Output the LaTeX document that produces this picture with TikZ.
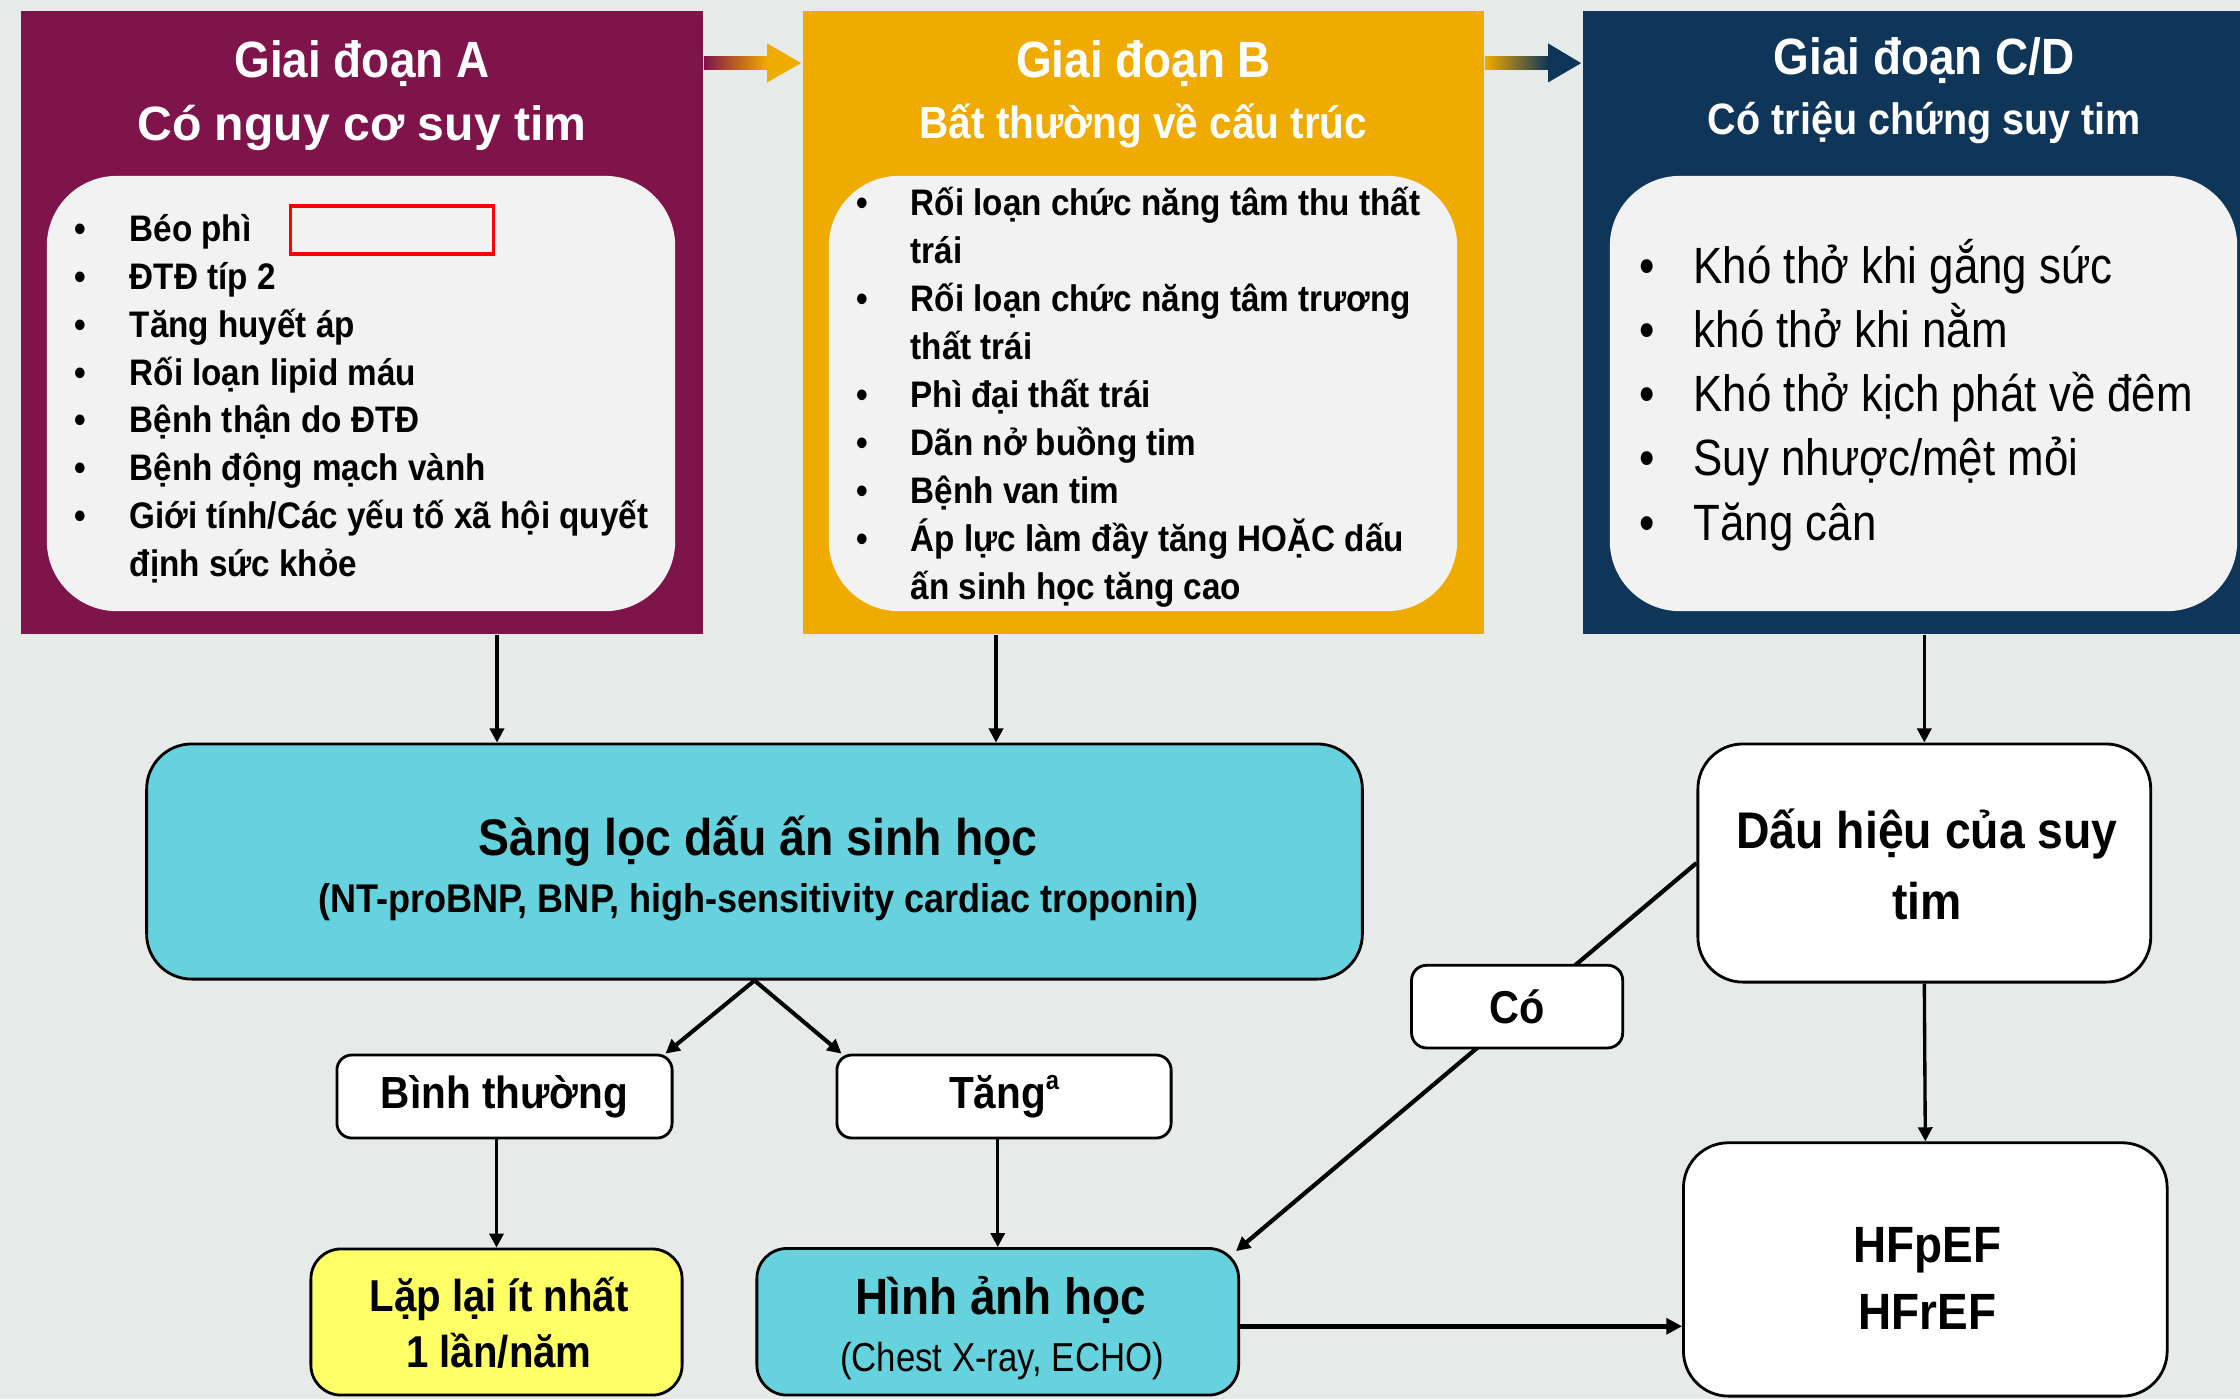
\documentclass[tikz,border=0pt]{standalone}
\usepackage{fontspec}
\setmainfont{Liberation Sans}
\newfontfamily\condsans[FakeStretch=0.9]{Liberation Sans}
\newfontfamily\condreg[FakeStretch=0.86]{Liberation Sans}
\usetikzlibrary{arrows.meta,calc}

% font helpers: condensed bold, condensed regular, normal-width bold
\newcommand\stbold[1]{\condsans\bfseries\fontsize{#1}{#1}\selectfont}
\newcommand\streg[1]{\condreg\fontsize{#1}{#1}\selectfont}
\newcommand\wdbold[1]{\bfseries\fontsize{#1}{#1}\selectfont}
% small raised footnote letter
\newcommand\supmark[1]{\raisebox{0.42em}{\stbold{7.5pt}#1}}

\definecolor{bgcol}{HTML}{E6EAE9}
\definecolor{stageA}{HTML}{7F144A}
\definecolor{stageB}{HTML}{F0AB00}
\definecolor{stageC}{HTML}{0F3659}
\definecolor{panelgray}{HTML}{F2F2F2}
\definecolor{cyanbox}{HTML}{66D2DE}
\definecolor{yellowbox}{HTML}{FFFF66}

\tikzset{
  stage/.style={rectangle, inner sep=0pt, minimum height=6.23cm},
  listbg/.style={rectangle, rounded corners=0.7cm, fill=panelgray, inner sep=0pt,
                 minimum width=6.28cm, minimum height=4.35cm},
  ttl/.style={anchor=base, inner sep=0pt, text=white},
  lineAB/.style={anchor=base west, inner sep=0pt, font=\stbold{10.5pt}},
  dotAB/.style={anchor=base, inner sep=0pt, font=\stbold{10.5pt}},
  lineC/.style={anchor=base west, inner sep=0pt, font=\streg{14.5pt}},
  dotC/.style={anchor=base, inner sep=0pt, font=\streg{14.5pt}},
  box/.style={rectangle, draw=black, line width=0.8pt, inner sep=0pt},
  txt/.style={anchor=base, inner sep=0pt},
  arr/.style={line width=0.95pt, -{Triangle[length=4pt,width=4pt]}},
}

\begin{document}
\begin{tikzpicture}[x=0.01cm,y=-0.01cm]
\useasboundingbox (0,0) rectangle (2240,1399);
\fill[bgcol] (0,0) rectangle (2240,1399);

% ---------- stage panels ----------
\node[stage, fill=stageA, minimum width=6.82cm] (pA) at (362,322.5) {};
\node[stage, fill=stageB, minimum width=6.81cm] (pB) at (1143.5,322.5) {};
\node[stage, fill=stageC, minimum width=6.57cm] (pC) at (1911.5,322.5) {};

\node[listbg] (iA) at (361,393.5) {};
\node[listbg] (iB) at (1143,393.5) {};
\node[listbg, minimum width=6.27cm] (iC) at (1923.5,393.5) {};

% panel titles
\node[ttl, font=\stbold{14.5pt}] (tA1) at (362,77) {Giai đoạn A};
\node[ttl, font=\wdbold{13.7pt}] (tA2) at (362,140) {Có nguy cơ suy tim};
\node[ttl, font=\stbold{14.5pt}] (tB1) at (1143.5,77) {Giai đoạn B};
\node[ttl, font=\stbold{12.8pt}] (tB2) at (1143.5,138) {Bất thường về cấu trúc};
\node[ttl, font=\stbold{14.5pt}] (tC1) at (1924,74) {Giai đoạn C/D};
\node[ttl, font=\stbold{12.5pt}] (tC2) at (1924.5,134) {Có triệu chứng suy tim};

% gradient arrows between the stages
\shade[left color=stageA, right color=stageB]
  ($(pA.north east)+(0,46.3)$) rectangle ($(pB.north west)+(-35,59.7)$);
\fill[stageB] ($(pB.north west)+(-35,33.3)$) -- ($(pB.north west)+(-1,53)$)
  -- ($(pB.north west)+(-35,72.3)$) -- cycle;
\shade[left color=stageB, right color=stageC]
  ($(pB.north east)+(0,46.3)$) rectangle ($(pC.north west)+(-34,59.7)$);
\fill[stageC] ($(pC.north west)+(-34,33.3)$) -- ($(pC.north west)+(-1,53)$)
  -- ($(pC.north west)+(-34,72.3)$) -- cycle;

% stage A list
\foreach \t [count=\i from 0] in {Béo phì, ĐTĐ típ 2, Tăng huyết áp, Rối loạn lipid máu,
    Bệnh thận do ĐTĐ, Bệnh động mạch vành, Giới tính/Các yếu tố xã hội quyết, định sức khỏe}
  \node[lineAB] (la\i) at (129,{241.6+47.8*\i}) {\t};
\foreach \i in {0,...,6}
  \node[dotAB] (ba\i) at (80,{241.6+47.8*\i}) {•};
\node[rectangle, draw=red, line width=0.95pt, inner sep=0pt,
      minimum width=2.03cm, minimum height=0.48cm] (mark) at (392,230) {};

% stage B list
\foreach \t [count=\i from 0] in {Rối loạn chức năng tâm thu thất, trái,
    Rối loạn chức năng tâm trương, thất trái, Phì đại thất trái, Dãn nở buồng tim,
    Bệnh van tim, Áp lực làm đầy tăng HOẶC dấu, ấn sinh học tăng cao}
  \node[lineAB] (lb\i) at (910,{215+48*\i}) {\t};
\foreach \i in {0,2,4,5,6,7}
  \node[dotAB] (bb\i) at (862,{215+48*\i}) {•};

% stage C/D list
\foreach \t [count=\i from 0] in {Khó thở khi gắng sức, khó thở khi nằm,
    Khó thở kịch phát về đêm, Suy nhược/mệt mỏi, Tăng cân}
  \node[lineC] (lc\i) at (1693,{283+64.25*\i}) {\t};
\foreach \i in {0,...,4}
  \node[dotC] (bc\i) at (1647,{283+64.25*\i}) {•};

% ---------- lower flow chart ----------
\node[box, fill=cyanbox, rounded corners=0.45cm, minimum width=12.15cm,
      minimum height=2.35cm] (sang) at (754.5,861.5) {};
\node[txt, font=\stbold{14.65pt}] (sangT1) at (758,855) {Sàng lọc dấu ấn sinh học};
\node[txt, font=\stbold{11.4pt}] (sangT2) at (758.5,912)
  {(NT-proBNP, BNP, high-sensitivity cardiac troponin)};

\node[box, fill=white, rounded corners=0.15cm, minimum width=3.35cm,
      minimum height=0.83cm, font=\stbold{12.8pt}] (binh) at (504.5,1096.5) {Bình thường};
\node[box, fill=white, rounded corners=0.15cm, minimum width=3.34cm,
      minimum height=0.83cm, font=\stbold{12.8pt}] (tang) at (1004,1096.5) {Tăng\supmark{a}};

\node[box, fill=yellowbox, rounded corners=0.3cm, minimum width=3.71cm,
      minimum height=1.46cm] (lap) at (496.5,1322) {};
\node[txt, font=\stbold{12.7pt}] (lapT1) at (499,1311) {Lặp lại ít nhất};
\node[txt, font=\stbold{12.7pt}] (lapT2) at (499,1367) {1 lần/năm};

\node[box, fill=cyanbox, rounded corners=0.3cm, minimum width=4.815cm,
      minimum height=1.465cm] (hinh) at (997.75,1321.75) {};
\node[txt, font=\stbold{14.5pt}] (hinhT1) at (1001,1314) {Hình ảnh học};
\node[txt, font=\streg{11.5pt}] (hinhT2) at (1002,1371) {(Chest X-ray, ECHO)};

\node[box, fill=white, rounded corners=0.45cm, minimum width=4.526cm,
      minimum height=2.38cm] (dau) at (1924.3,863) {};
\node[txt, font=\stbold{14.65pt}] (dauT1) at (1927,848.8) {Dấu hiệu của suy};
\node[txt, font=\stbold{14.65pt}] (dauT2) at (1927,919.5) {tim};

\node[box, fill=white, rounded corners=0.45cm, minimum width=4.834cm,
      minimum height=2.532cm] (hf) at (1925.3,1269.4) {};
\node[txt, font=\stbold{14.5pt}] (hfT1) at (1927.6,1262) {HFpEF};
\node[txt, font=\stbold{14.5pt}] (hfT2) at (1927.6,1329) {HFrEF};

% column positions of the stage-to-box arrows
\coordinate (colA) at (497,0);
\coordinate (colB) at (996,0);

% ---------- connectors ----------
\draw[arr] (pA.south -| colA) -- (sang.north -| colA);
\draw[arr] (pB.south -| colB) -- (sang.north -| colB);
\draw[arr] (pC.south -| dau.north) -- (dau.north);
\draw[arr, line width=1.15pt] (sang.south) -- ($(binh.north east)+(-8,0)$);
\draw[arr, line width=1.15pt] (sang.south) -- ($(tang.north west)+(6,0)$);
\draw[arr] (binh.south -| lap.north) -- (lap.north);
\draw[arr] (tang.south -| hinh.north) -- (hinh.north);
\draw[arr] (dau.south) -- (hf.north);
\draw[arr, line width=1.2pt] (dau.west) --
  node[box, fill=white, rounded corners=0.15cm, minimum width=2.11cm,
       minimum height=0.826cm, font=\stbold{13.1pt}, pos=0.37, xshift=-0.09cm] (co) {Có}
  ($(hinh.north east)+(-4,4)$);
\draw[line width=1.5pt, -{Triangle[length=4.5pt,width=4.5pt]}]
  ($(hinh.east)+(0,4.5)$) -- ($(hinh.east -| hf.west)+(0,4.5)$);
\end{tikzpicture}
\end{document}
